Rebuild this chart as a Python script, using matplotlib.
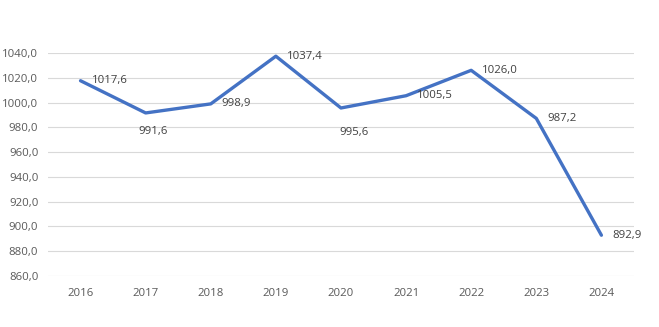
import matplotlib
matplotlib.use("Agg")
import matplotlib.pyplot as plt

years = ["2016", "2017", "2018", "2019", "2020", "2021", "2022", "2023", "2024"]
values = [1017.6, 991.6, 998.9, 1037.4, 995.6, 1005.5, 1026.0, 987.2, 892.9]
yticks = [860, 880, 900, 920, 940, 960, 980, 1000, 1020, 1040]
# label offsets in points (dx, dy, horizontal alignment)
label_offsets = [(8, 0, "left"), (5, -13.5, "center"), (8, 0, "left"), (8, -0.5, "left"),
                 (9.5, -18, "center"), (8, 0, "left"), (8, 0, "left"), (8, 0, "left"), (8, 0, "left")]

fig = plt.figure(figsize=(6.59, 3.27), dpi=100)
ax = fig.add_axes([0.0728, 0.156, 0.8892, 0.682])
FAM = ["Open Sans", "DejaVu Sans"]
FS = 8.2

x = list(range(len(years)))
ax.plot(x, values, color="#4472C4", linewidth=2.4, solid_capstyle="round", clip_on=False, zorder=3)

def fmt(v):
    return f"{v:.1f}".replace(".", ",")

for xi, v, (dx, dy, ha) in zip(x, values, label_offsets):
    ax.annotate(fmt(v), (xi, v), xytext=(dx, dy), textcoords="offset points",
                ha=ha, va="center", fontsize=FS, color="#404040", family=FAM)

ax.set_xlim(-0.5, len(years) - 0.5)
ax.set_ylim(860, 1040)
ax.set_yticks(yticks)
ax.set_yticklabels([fmt(t) for t in yticks])
ax.set_xticks(x)
ax.set_xticklabels(years)
for lab in ax.get_xticklabels() + ax.get_yticklabels():
    lab.set_fontsize(FS)
    lab.set_color("#595959")
    lab.set_family(FAM)
ax.tick_params(axis="both", length=0)
ax.tick_params(axis="x", pad=9)
ax.tick_params(axis="y", pad=7)
ax.grid(axis="y", color="#D9D9D9", linewidth=0.8)
ax.set_axisbelow(True)
for s in ax.spines.values():
    s.set_visible(False)

fig.savefig("out.png", dpi=100)
